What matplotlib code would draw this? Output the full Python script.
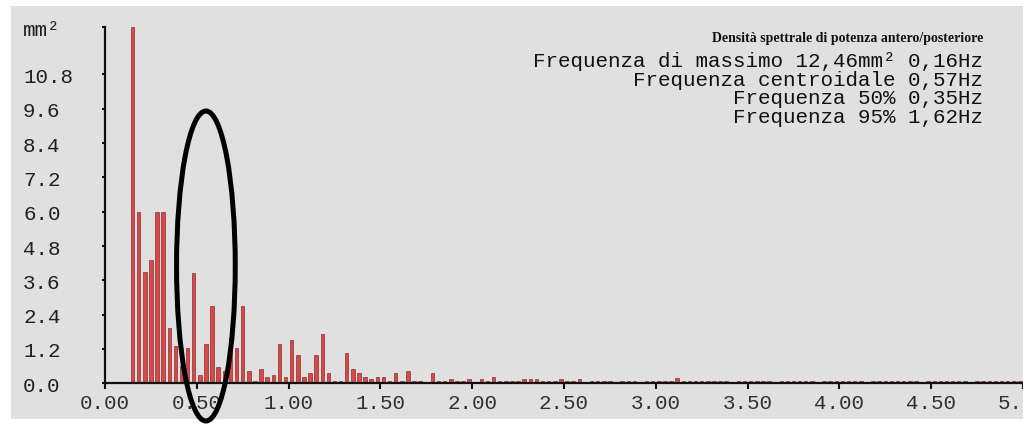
import numpy as np
import matplotlib
matplotlib.use("Agg")
import matplotlib.pyplot as plt
from matplotlib.patches import Rectangle, Ellipse

# Power spectral density (mm^2), one value per frequency bin of 1/30 Hz,
# starting at the 5th bin (0.1667 Hz)
first_bin = 5
bin_width = 1.0 / 30.0
psd = [
    12.46, 6.00, 3.90, 4.30, 6.00, 6.00, 1.94, 1.30, 0.60, 1.22,
    3.84, 0.28, 1.36, 2.69, 0.57, 0.42, 1.57, 1.22, 2.69, 0.42,
    0.09, 0.49, 0.21, 0.28, 1.36, 0.21, 1.50, 0.98, 0.21, 0.35,
    0.98, 1.71, 0.35, 0.09, 0.09, 1.05, 0.49, 0.35, 0.21, 0.16,
    0.23, 0.23, 0.09, 0.37, 0.09, 0.44, 0.09, 0.09, 0.03, 0.37,
    0.09, 0.09, 0.16, 0.09, 0.09, 0.16, 0.03, 0.16, 0.09, 0.23,
    0.09, 0.09, 0.09, 0.09, 0.16, 0.16, 0.16, 0.07, 0.07, 0.07,
    0.14, 0.07, 0.07, 0.14, 0.03, 0.07, 0.07, 0.07, 0.07, 0.03,
    0.07, 0.07, 0.07, 0.03, 0.07, 0.07, 0.07, 0.07, 0.09, 0.18,
    0.07, 0.07, 0.07, 0.07, 0.07, 0.07, 0.07, 0.07, 0.03, 0.07,
    0.07, 0.07, 0.07, 0.07, 0.07, 0.03, 0.07, 0.07, 0.07, 0.07,
    0.07, 0.07, 0.03, 0.07, 0.07, 0.07, 0.07, 0.07, 0.07, 0.07,
    0.03, 0.07, 0.07, 0.07, 0.07, 0.07, 0.07, 0.07, 0.07, 0.03,
    0.07, 0.07, 0.07, 0.07, 0.07, 0.07, 0.07, 0.03, 0.07, 0.07,
    0.07, 0.07, 0.07, 0.07, 0.07, 0.07,
]

x_ticks = [0.0, 0.5, 1.0, 1.5, 2.0, 2.5, 3.0, 3.5, 4.0, 4.5, 5.0]
x_tick_labels = ["0.00", "0.50", "1.00", "1.50", "2.00", "2.50",
                 "3.00", "3.50", "4.00", "4.50", "5.00"]
y_ticks = [0.0, 1.2, 2.4, 3.6, 4.8, 6.0, 7.2, 8.4, 9.6, 10.8, 12.46]
y_tick_labels = ["0.0", "1.2", "2.4", "3.6", "4.8", "6.0",
                 "7.2", "8.4", "9.6", "10.8", "mm\u00b2"]

title = "Densit\u00e0 spettrale di potenza antero/posteriore"
info_lines = [
    "Frequenza di massimo 12,46mm\u00b2 0,16Hz",
    "Frequenza centroidale 0,57Hz",
    "Frequenza 50% 0,35Hz",
    "Frequenza 95% 1,62Hz",
]

W, H = 1023, 427
fig = plt.figure(figsize=(W / 100, H / 100), dpi=100, facecolor="white")

# grey panel behind the plot
fig.add_artist(Rectangle((11 / W, (H - 420) / H), 1.0, 413 / H,
                         transform=fig.transFigure, facecolor="#e0e0e0",
                         edgecolor="none", zorder=0))

ax = fig.add_axes([105 / W, (H - 384.3) / H, (W - 105) / W, (384.3 - 28) / H])
ax.set_facecolor("none")

freqs = (first_bin + np.arange(len(psd))) * bin_width
# each bar is drawn half a bin to the left of its frequency
ax.bar(freqs - bin_width / 2, psd, width=0.019, color="#d84848",
       edgecolor="#8a2f2f", linewidth=0.5, zorder=2)

ax.set_xlim(0, 5.0)
ax.set_ylim(0, 12.46)

for side in ("top", "right"):
    ax.spines[side].set_visible(False)
for side in ("left", "bottom"):
    ax.spines[side].set_linewidth(1.6)
    ax.spines[side].set_color("#111111")
    ax.spines[side].set_zorder(3)

tick_font = dict(family="Liberation Mono", size=15)
ax.set_xticks(x_ticks)
ax.set_xticklabels(x_tick_labels, fontdict=tick_font, color="#303030")
ax.set_yticks(y_ticks)
ax.set_yticklabels(y_tick_labels, fontdict=tick_font, color="#202020")
for lab in ax.get_yticklabels():
    lab.set_horizontalalignment("left")
ax.tick_params(axis="x", direction="out", length=4, width=1.5, pad=3,
               color="#111111")
ax.tick_params(axis="y", direction="out", length=2.5, width=1.5, pad=56.5,
               color="#111111")

# statistics block in the upper right
fig.text(983 / W, (H - 41.7) / H, title, ha="right", va="baseline",
         family="Liberation Serif", weight="bold", size=10, color="#111111")
baselines = [66.7, 85.7, 104.3, 122.7]
for line, yb in zip(info_lines, baselines):
    fig.text(983 / W, (H - yb) / H, line, ha="right", va="baseline",
             family="Liberation Mono", size=15, color="#111111")

# highlight around the 0.5-0.6 Hz region
fig.add_artist(Ellipse((205.9 / W, (H - 267) / H), 58.7 / W, 310 / H,
                       transform=fig.transFigure, fill=False,
                       edgecolor="black", linewidth=3.6, zorder=10))

fig.savefig("out.png", dpi=100, facecolor="white")
